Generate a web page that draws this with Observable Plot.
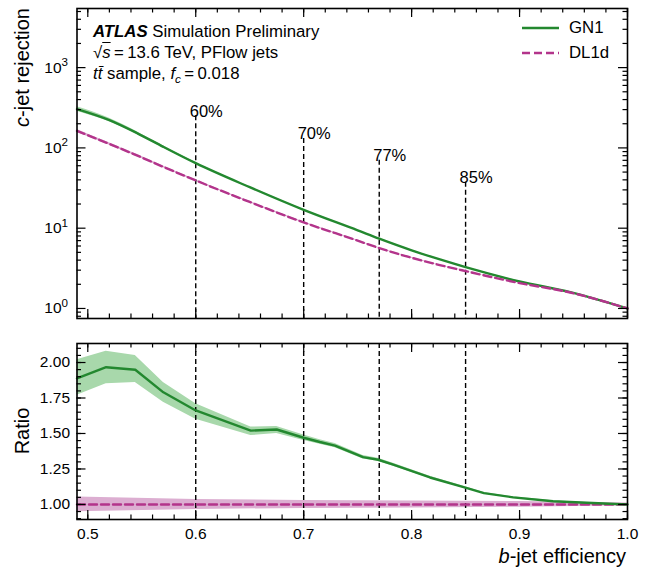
<!DOCTYPE html>
<html><head><meta charset="utf-8">
<script src="https://cdn.jsdelivr.net/npm/d3@7"></script>
<script src="https://cdn.jsdelivr.net/npm/@observablehq/plot@0.6"></script>
<style>
body{margin:0;background:#fff;}
#chart{position:relative;width:649px;height:570px;font-family:"Liberation Sans",Arial,Helvetica,sans-serif;color:#000;overflow:hidden;}
#chart > svg{position:absolute;left:0;}
.ov{position:absolute;white-space:nowrap;line-height:1;font-size:16.5px;}
</style></head><body><div id="chart"></div>
<script>
// ---------- data ----------
const effTop = [0.49, 0.52, 0.546, 0.57, 0.6, 0.65, 0.7, 0.75, 0.77, 0.8, 0.827, 0.85, 0.9, 0.947, 1.0];
const gn1Rej = [305, 222, 152, 103, 64.5, 32.4, 16.9, 9.4, 7.4, 5.3, 4.05, 3.27, 2.17, 1.6, 1.0];
const gn1Lo  = [286, 211, 146, 100, 63, 31.9, 16.7, 9.3, 7.33, 5.26, 4.02, 3.25, 2.16, 1.595, 0.995];
const gn1Hi  = [325, 234, 158, 106, 66, 32.9, 17.1, 9.5, 7.47, 5.34, 4.08, 3.29, 2.18, 1.605, 1.005];
const dl1dRej = [163, 112, 80, 58, 39.3, 21.2, 11.8, 7.0, 5.65, 4.28, 3.45, 2.92, 2.07, 1.58, 1.0];
const dl1dLo  = [156, 108, 77.5, 56.5, 38.4, 20.8, 11.6, 6.9, 5.58, 4.23, 3.42, 2.9, 2.06, 1.575, 0.995];
const dl1dHi  = [170, 116, 82.5, 59.5, 40.2, 21.6, 12.0, 7.1, 5.72, 4.33, 3.48, 2.94, 2.08, 1.585, 1.005];

const effRatio = [0.49, 0.517, 0.544, 0.57, 0.6, 0.651, 0.675, 0.7, 0.715, 0.729, 0.755, 0.769, 0.783, 0.817, 0.849, 0.867, 0.894, 0.931, 0.962, 1.0];
const ratioGN1   = [1.889, 1.967, 1.949, 1.79, 1.662, 1.52, 1.528, 1.47, 1.44, 1.415, 1.333, 1.315, 1.28, 1.19, 1.12, 1.08, 1.05, 1.023, 1.012, 1.0];
const ratioGN1Lo = [1.77, 1.85, 1.86, 1.72, 1.60, 1.485, 1.50, 1.45, 1.425, 1.40, 1.32, 1.305, 1.27, 1.182, 1.113, 1.075, 1.046, 1.02, 1.01, 0.998];
const ratioGN1Hi = [2.02, 2.08, 2.05, 1.86, 1.71, 1.545, 1.55, 1.49, 1.455, 1.43, 1.345, 1.325, 1.29, 1.198, 1.127, 1.085, 1.054, 1.026, 1.014, 1.002];

const effRatioDL = [0.49, 0.6, 0.7, 0.8, 0.9, 1.0];
const ratioDL1d   = [1, 1, 1, 1, 1, 1];
const ratioDL1dLo = [0.948, 0.965, 0.972, 0.975, 0.98, 0.99];
const ratioDL1dHi = [1.052, 1.035, 1.028, 1.025, 1.02, 1.01];

const wpEff   = [0.6, 0.7, 0.77, 0.85];
const wpLabel = ["60%", "70%", "77%", "85%"];
const wpTop   = [252, 131, 70, 37.4];

const xMajor = [0.5, 0.6, 0.7, 0.8, 0.9, 1.0];
const xMinor = [0.5,0.52,0.54,0.56,0.58,0.6,0.62,0.64,0.66,0.68,0.7,0.72,0.74,0.76,0.78,0.8,0.82,0.84,0.86,0.88,0.9,0.92,0.94,0.96,0.98,1.0];
const yMajorTop = [1, 10, 100, 1000];
const yMinorTop = [0.8,0.9,2,3,4,5,6,7,8,9,20,30,40,50,60,70,80,90,200,300,400,500,600,700,800,900,2000,3000,4000,5000];
const yMajorBot = [1.0, 1.25, 1.5, 1.75, 2.0];
const yMinorBot = [0.9,0.95,1.0,1.05,1.1,1.15,1.2,1.25,1.3,1.35,1.4,1.45,1.5,1.55,1.6,1.65,1.7,1.75,1.8,1.85,1.9,1.95,2.0,2.05,2.1];

const xDomain = [0.49, 1.0];
const yDomainTop = [0.75, 5450];
const yDomainBot = [0.894, 2.134];

// ---------- styling ----------
const GREEN = "#23882f", MAGENTA = "#b3348b";
const GBAND = "#a8d8ab", MBAND = "#dcaed1";
const W = 649, mL = 76.5, mR = 22;
const iw = W - mL - mR;
const font = '"Liberation Sans", Arial, Helvetica, sans-serif';

const topRows = effTop.map((e, i) => ({eff: e, gn1: gn1Rej[i], gLo: gn1Lo[i], gHi: gn1Hi[i], dl: dl1dRej[i], dLo: dl1dLo[i], dHi: dl1dHi[i]}));
const ratioRows = effRatio.map((e, i) => ({eff: e, r: ratioGN1[i], lo: ratioGN1Lo[i], hi: ratioGN1Hi[i]}));
const ratioDLRows = effRatioDL.map((e, i) => ({eff: e, r: ratioDL1d[i], lo: ratioDL1dLo[i], hi: ratioDL1dHi[i]}));
const wpRows = wpEff.map((e, i) => ({eff: e, label: wpLabel[i], top: wpTop[i]}));

function frameTicks(yMaj, yMin, ih) {
  const L = 9, S = 4.5;
  const st = {stroke: "#000", strokeWidth: 1.2};
  return [
    Plot.tickX(xMinor, {x: d => d, insetTop: ih - S, ...st}),
    Plot.tickX(xMinor, {x: d => d, insetBottom: ih - S, ...st}),
    Plot.tickX(xMajor, {x: d => d, insetTop: ih - L, ...st}),
    Plot.tickX(xMajor, {x: d => d, insetBottom: ih - L, ...st}),
    Plot.tickY(yMin, {y: d => d, insetRight: iw - S, ...st}),
    Plot.tickY(yMin, {y: d => d, insetLeft: iw - S, ...st}),
    Plot.tickY(yMaj, {y: d => d, insetRight: iw - L, ...st}),
    Plot.tickY(yMaj, {y: d => d, insetLeft: iw - L, ...st}),
    Plot.frame({stroke: "#000", strokeWidth: 1.6})
  ];
}

// ---------- top panel ----------
const topH = 330, topMT = 8, topMB = 12;
const topPlot = Plot.plot({
  width: W, height: topH,
  marginLeft: mL, marginRight: mR, marginTop: topMT, marginBottom: topMB,
  style: {fontFamily: font, fontSize: "15.5px", color: "#000", background: "transparent"},
  x: {domain: xDomain, axis: null},
  y: {type: "log", domain: yDomainTop},
  marks: [
    Plot.areaY(topRows, {x: "eff", y1: "dLo", y2: "dHi", fill: MBAND, curve: "monotone-x"}),
    Plot.areaY(topRows, {x: "eff", y1: "gLo", y2: "gHi", fill: GBAND, curve: "monotone-x"}),
    Plot.ruleX(wpRows, {x: "eff", y1: "top", y2: () => yDomainTop[0], stroke: "#000", strokeWidth: 1.4, strokeDasharray: "5,3"}),
    Plot.line(topRows, {x: "eff", y: "gn1", stroke: GREEN, strokeWidth: 2.4, curve: "monotone-x"}),
    Plot.line(topRows, {x: "eff", y: "dl", stroke: MAGENTA, strokeWidth: 2.4, strokeDasharray: "8,4", curve: "monotone-x"}),
    Plot.text(wpRows, {x: "eff", y: "top", text: "label", textAnchor: "start", lineAnchor: "bottom", dx: -6, dy: 1, fontSize: 16.5, fill: "#000"}),
    Plot.axisY({ticks: yMajorTop, tickSize: 0, tickPadding: 9, tickFormat: d => "10^" + Math.round(Math.log10(d)), label: null}),
    ...frameTicks(yMajorTop, yMinorTop, topH - topMT - topMB)
  ]
});

// ---------- ratio panel ----------
const botH = 240, botMT = 13, botMB = 51;
const botPlot = Plot.plot({
  width: W, height: botH,
  marginLeft: mL, marginRight: mR, marginTop: botMT, marginBottom: botMB,
  style: {fontFamily: font, fontSize: "15.5px", color: "#000", background: "transparent"},
  x: {domain: xDomain},
  y: {domain: yDomainBot},
  marks: [
    Plot.areaY(ratioDLRows, {x: "eff", y1: "lo", y2: "hi", fill: MBAND}),
    Plot.areaY(ratioRows, {x: "eff", y1: "lo", y2: "hi", fill: GBAND}),
    Plot.ruleX(wpEff, {x: d => d, stroke: "#000", strokeWidth: 1.4, strokeDasharray: "5,3"}),
    Plot.line(ratioDLRows, {x: "eff", y: "r", stroke: MAGENTA, strokeWidth: 2.4, strokeDasharray: "8,4"}),
    Plot.line(ratioRows, {x: "eff", y: "r", stroke: GREEN, strokeWidth: 2.4}),
    Plot.axisY({ticks: yMajorBot, tickSize: 0, tickPadding: 7, tickFormat: d3.format(".2f"), label: null}),
    Plot.axisX({ticks: xMajor, tickSize: 0, tickPadding: 8, tickFormat: d3.format(".1f"), label: null}),
    ...frameTicks(yMajorBot, yMinorBot, botH - botMT - botMB)
  ]
});

const chart = document.getElementById("chart");
topPlot.style.top = "0px";
botPlot.style.top = "330px";
chart.appendChild(topPlot);
chart.appendChild(botPlot);

// superscript exponents on log tick labels
topPlot.querySelectorAll('g[aria-label="y-axis tick label"] text').forEach(t => {
  const m = t.textContent.match(/^10\^(-?\d+)$/);
  if (!m) return;
  t.textContent = "10";
  const ts = document.createElementNS("http://www.w3.org/2000/svg", "tspan");
  ts.setAttribute("dy", "-0.55em");
  ts.setAttribute("font-size", "0.75em");
  ts.textContent = m[1];
  t.appendChild(ts);
});

// ---------- text overlays ----------
function ov(html, style) {
  const d = document.createElement("div");
  d.className = "ov";
  d.innerHTML = html;
  d.setAttribute("style", style);
  chart.appendChild(d);
  return d;
}
ov('<b><i>ATLAS</i></b> Simulation Preliminary<br>' +
   '√<span style="text-decoration:overline"><i>s</i></span>&#8201;=&#8201;13.6 TeV, PFlow jets<br>' +
   '<i>t</i><i>t̄</i> sample, <i>f</i><sub style="font-size:0.7em;font-style:italic">c</sub>&#8201;=&#8201;0.018',
   'left:93px;top:21px;line-height:21px;font-size:16.8px;');

// legend
ov('<svg width="37" height="10" style="display:block"><line x1="0" x2="37" y1="5" y2="5" stroke="' + GREEN + '" stroke-width="2.5"/></svg>', 'left:522px;top:23px;');
ov('GN1', 'left:569px;top:20px;font-size:16.8px;');
ov('<svg width="37" height="10" style="display:block"><line x1="0" x2="37" y1="5" y2="5" stroke="' + MAGENTA + '" stroke-width="2.5" stroke-dasharray="8,4"/></svg>', 'left:522px;top:48px;');
ov('DL1d', 'left:569px;top:45px;font-size:16.8px;');

// axis titles
ov('<i>c</i>-jet rejection', 'left:0;top:0;width:300px;text-align:right;font-size:20px;transform-origin:0 0;transform:translate(12px,308px) rotate(-90deg);');
ov('Ratio', 'left:0;top:0;width:200px;text-align:center;font-size:20px;transform-origin:0 0;transform:translate(12px,531px) rotate(-90deg);');
ov('<i>b</i>-jet efficiency', 'right:23px;top:546px;font-size:20px;');
</script></body></html>
